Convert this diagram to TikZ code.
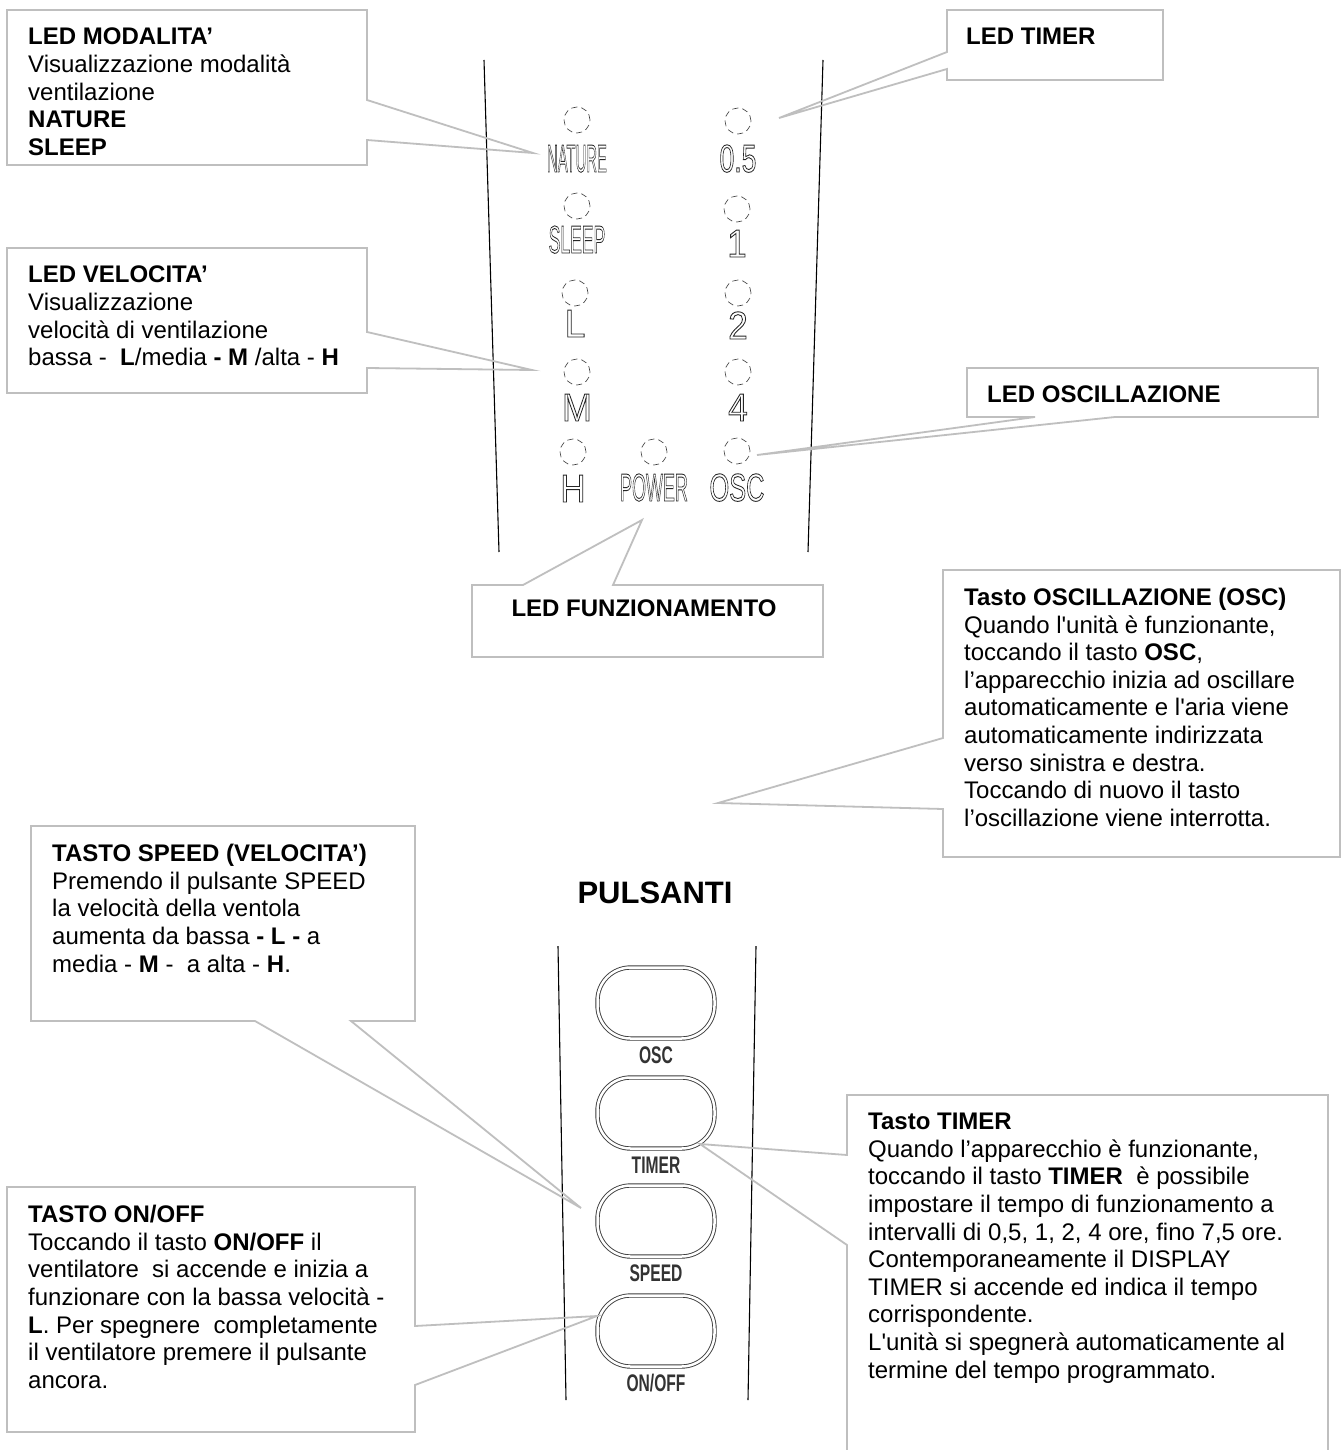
\documentclass[tikz,border=0pt]{standalone}
\usepackage{fontspec}
\newfontfamily\arial{Liberation Sans}
\newcommand\hollow[1]{\special{pdf:literal direct 1 Tr 0.9 w}#1\special{pdf:literal direct 0 Tr}}
\definecolor{calloutgray}{RGB}{191,191,191}
\definecolor{ledgray}{RGB}{60,60,60}
\tikzset{
    callout/.style={draw=calloutgray, line width=1.8pt, line join=miter},
    note/.style={anchor=north west, align=left, inner sep=0pt, font=\arial\fontsize{24}{27.6}\selectfont},
    led/.style={circle, draw=ledgray, dash pattern=on 6pt off 4pt, line width=0.6pt, minimum size=26pt, inner sep=0pt},
    ledtxt/.style={anchor=base, inner sep=0pt, text=black!85, font=\arial\fontsize{39}{39}\selectfont},
    panel/.style={draw=black, line width=1.1pt},
    button/.style={draw=ledgray, double, double distance=2.5pt, line width=0.9pt, rounded corners=33pt, minimum width=117pt, minimum height=71pt},
    btntxt/.style={anchor=base, inner sep=0pt, text=black!80, font=\arial\bfseries\fontsize{24}{24}\selectfont}
}
\begin{document}
\begin{tikzpicture}[x=1pt,y=-1pt]
        \def\W{1341}
        \def\H{1450}
        \fill[white] (0,0) rectangle (\W,\H);
        \useasboundingbox (0,0) rectangle (\W,\H);

        \draw[panel] (484,60) -- (499,552) (823,60) -- (808,552);
        \draw[panel] (558,946) -- (566,1400) (756,946) -- (748,1400);

        \foreach \x/\y/\by/\name/\txt/\sx in {577/120/172/nature/NATURE/0.38, 738/121/172/half/0.5/0.68,
                577/206/253/sleep/SLEEP/0.45, 737/209/257/one/1/0.9, 575/293/337/low/L/0.95, 738/293/339/two/2/0.9,
                577/372/421/mid/M/0.92, 738/372/421/four/4/0.9, 573/452/502/high/H/0.9,
                654/452/501/power/POWER/0.46, 737/451/501/osc/OSC/0.65} {
                \node[led] (led-\name) at (\x,\y) {};
                \node[ledtxt] (lbl-\name) at (\x,\by) {\scalebox{\sx}[1]{\hollow{\txt}}};
            }

        \foreach \y/\name/\txt in {1003/osc/OSC, 1113/timer/TIMER, 1221/speed/SPEED, 1331/onoff/{ON/OFF}} {
                \node[button] (btn-\name) at (656,\y) {};
                \node[btntxt] (btnlbl-\name) at (656,\y+60) {\scalebox{0.65}[1]{\txt}};
            }

        \node[font=\arial\bfseries\fontsize{31}{31}\selectfont, inner sep=0pt] (pulsanti) at (655,893) {PULSANTI};

        \coordinate (tipMode) at (533,153);
        \coordinate (tipTimer) at (779,118);
        \coordinate (tipSpeed) at (532,370);
        \coordinate (tipOsc) at (757,455);
        \coordinate (tipPower) at (642,520);
        \coordinate (tipOscKey) at (718,803);
        \coordinate (tipSpeedKey) at (581,1208);
        \coordinate (tipOnOff) at (597,1316);
        \coordinate (tipTimerKey) at (700,1144);

        \draw[callout] (367,100) -- (tipMode) -- (367,140) -- (367,165) -- (7,165) -- (7,10) -- (367,10) -- cycle;
        \draw[callout] (947,52) -- (tipTimer) -- (947,69) -- (947,80) -- (1163,80) -- (1163,10) -- (947,10) -- cycle;
        \draw[callout] (367,332) -- (tipSpeed) -- (367,368) -- (367,393) -- (7,393) -- (7,248) -- (367,248) -- cycle;
        \draw[callout] (1035,417) -- (tipOsc) -- (1115,417) -- (1318,417) -- (1318,368) -- (967,368) -- (967,417) -- cycle;
        \draw[callout] (523,585) -- (tipPower) -- (613,585) -- (823,585) -- (823,657) -- (472,657) -- (472,585) -- cycle;
        \draw[callout] (943,738) -- (tipOscKey) -- (943,809) -- (943,857) -- (1340,857) -- (1340,570) -- (943,570) -- cycle;
        \draw[callout] (255,1021) -- (tipSpeedKey) -- (351,1021) -- (415,1021) -- (415,826) -- (31,826) -- (31,1021) -- cycle;
        \draw[callout] (415,1326) -- (tipOnOff) -- (415,1385) -- (415,1432) -- (7,1432) -- (7,1187) -- (415,1187) -- cycle;
        \draw[callout] (847,1155) -- (tipTimerKey) -- (847,1245) -- (847,1470) -- (1328,1470) -- (1328,1095) -- (847,1095) -- cycle;

        \node[note] (noteMode) at (28,28) {\textbf{LED MODALITA’}\\Visualizzazione modalità\\ventilazione\\\textbf{NATURE}\\\textbf{SLEEP}};
        \node[note] (noteTimer) at (966,28) {\textbf{LED TIMER}};
        \node[note] (noteSpeed) at (28,266) {\textbf{LED VELOCITA’}\\Visualizzazione\\velocità di ventilazione\\bassa - \ \textbf{L}/media \textbf{- M} /alta - \textbf{H}};
        \node[note] (noteOsc) at (987,386) {\textbf{LED OSCILLAZIONE}};
        \node[note, anchor=north] (notePower) at (644,600) {\textbf{LED FUNZIONAMENTO}};
        \node[note] (noteOscKey) at (964,588) {\textbf{Tasto OSCILLAZIONE (OSC)}\\Quando l'unità è funzionante,\\toccando il tasto \textbf{OSC},\\l’apparecchio inizia ad oscillare\\automaticamente e l'aria viene\\automaticamente indirizzata\\verso sinistra e destra.\\Toccando di nuovo il tasto\\l’oscillazione viene interrotta.};
        \node[note] (noteSpeedKey) at (52,844) {\textbf{TASTO SPEED (VELOCITA’)}\\Premendo il pulsante SPEED\\la velocità della ventola\\aumenta da bassa \textbf{- L -} a\\media - \textbf{M} - \ a alta - \textbf{H}.};
        \node[note] (noteOnOff) at (28,1205) {\textbf{TASTO ON/OFF}\\Toccando il tasto \textbf{ON/OFF} il\\ventilatore \ si accende e inizia a\\funzionare con la bassa velocità -\\\textbf{L}. Per spegnere \ completamente\\il ventilatore premere il pulsante\\ancora.};
        \node[note] (noteTimerKey) at (868,1113) {\textbf{Tasto TIMER}\\Quando l’apparecchio è funzionante,\\toccando il tasto \textbf{TIMER} \ è possibile\\impostare il tempo di funzionamento a\\intervalli di 0,5, 1, 2, 4 ore, fino 7,5 ore.\\Contemporaneamente il DISPLAY\\TIMER si accende ed indica il tempo\\corrispondente.\\L'unità si spegnerà automaticamente al\\termine del tempo programmato.};
    \end{tikzpicture}
\end{document}
